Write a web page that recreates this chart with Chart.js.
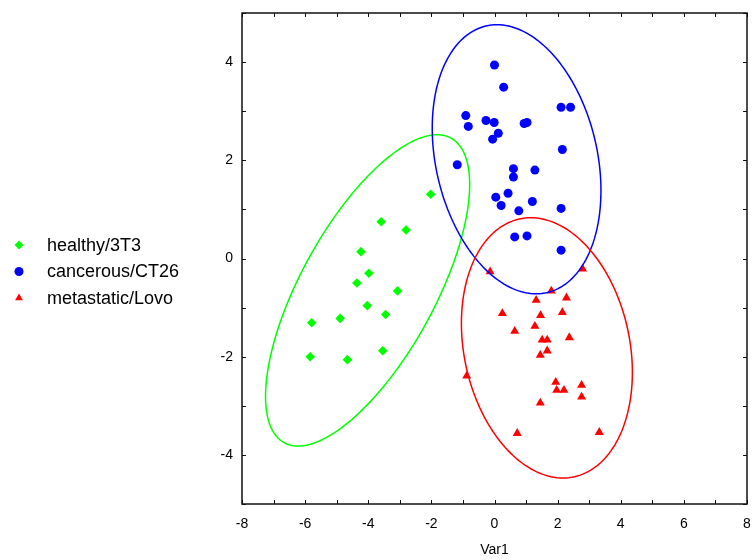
<!DOCTYPE html>
<html>
<head>
<meta charset="utf-8">
<title>Var1 scores</title>
<script src="https://cdn.jsdelivr.net/npm/chart.js@4.4.0/dist/chart.umd.min.js"></script>
<style>
  html, body { margin: 0; padding: 0; background: #fff; }
  #wrap { width: 753px; height: 560px; position: relative; }
</style>
</head>
<body>
<div id="wrap"><canvas id="scoreChart"></canvas></div>
<script>
// Scores per cell line (Var1 on x, second component on y)
const healthyX = [-2.02, -3.59, -2.80, -4.23, -3.98, -4.36, -3.07, -4.03, -3.45, -5.79, -4.89, -3.54, -5.84, -4.66];
const healthyY = [1.31, 0.75, 0.58, 0.14, -0.30, -0.50, -0.66, -0.96, -1.14, -1.31, -1.22, -1.88, -2.00, -2.06];

const cancerousX = [0.00, 0.29, 2.11, 2.41, -0.91, -0.83, -0.27, -0.01, 0.94, 1.03, 0.12, -0.06, 2.15,
                    -1.18, 0.60, 0.60, 1.28, 0.04, 0.43, 0.21, 1.20, 0.77, 2.11, 0.64, 1.03, 2.11];
const cancerousY = [3.94, 3.49, 3.08, 3.08, 2.91, 2.69, 2.81, 2.77, 2.75, 2.77, 2.55, 2.43, 2.22,
                    1.91, 1.83, 1.66, 1.80, 1.25, 1.33, 1.08, 1.16, 0.97, 1.02, 0.44, 0.46, 0.17];

const metastaticX = [-0.14, 2.79, 1.80, 2.28, 1.32, 0.25, 1.46, 2.15, 1.28, 0.64, 1.51, 1.67, 2.37, 1.67,
                     1.45, -0.88, 1.94, 1.97, 2.20, 2.76, 2.76, 1.45, 0.72, 3.32];
const metastaticY = [-0.27, -0.21, -0.66, -0.80, -0.85, -1.12, -1.16, -1.10, -1.38, -1.48, -1.66, -1.66, -1.61, -1.88,
                     -1.97, -2.39, -2.52, -2.68, -2.68, -2.58, -2.82, -2.94, -3.56, -3.54];

const groupLabels = ['healthy/3T3', 'cancerous/CT26', 'metastatic/Lovo'];

// Confidence ellipses: centre plus two conjugate half-axes, in data units
const healthyEllipse = [-4.02, -0.65, 2.20, 3.17, 2.37, 0];
const cancerousEllipse = [0.70, 2.02, -0.62, 2.74, 2.60, 0];
const metastaticEllipse = [1.66, -1.82, -0.51, 2.65, 2.66, 0];

const xTicks = [-8, -6, -4, -2, 0, 2, 4, 6, 8];
const yTicks = [-4, -2, 0, 2, 4];
const xMinor = [-8, -7, -6, -5, -4, -3, -2, -1, 0, 1, 2, 3, 4, 5, 6, 7, 8];
const yMinor = [-5, -4, -3, -2, -1, 0, 1, 2, 3, 4, 5];

const toPoints = (xs, ys) => xs.map((x, i) => ({ x: x, y: ys[i] }));

Chart.defaults.font.family = "'Liberation Sans', Arial, sans-serif";
Chart.defaults.color = '#000';

// Ellipse outlines, mapped point by point through the chart scales
const ellipsePlugin = {
    id: 'ellipses',
    afterDatasetsDraw(chart) {
        const { ctx, scales: { x, y } } = chart;
        const outlines = [
            [healthyEllipse, '#00ff00'],
            [cancerousEllipse, '#0000ff'],
            [metastaticEllipse, '#ff0000']
        ];
        ctx.save();
        ctx.beginPath();
        ctx.rect(chart.chartArea.left, chart.chartArea.top, chart.chartArea.width, chart.chartArea.height);
        ctx.clip();
        ctx.lineWidth = 1.5;
        outlines.forEach(([e, color]) => {
            const [cx, cy, px, py, qx, qy] = e;
            ctx.strokeStyle = color;
            ctx.beginPath();
            for (let k = 0; k <= 180; k++) {
                const t = k / 180 * Math.PI * 2;
                const vx = cx + px * Math.cos(t) + qx * Math.sin(t);
                const vy = cy + py * Math.cos(t) + qy * Math.sin(t);
                const X = x.getPixelForValue(vx);
                const Y = y.getPixelForValue(vy);
                if (k === 0) ctx.moveTo(X, Y); else ctx.lineTo(X, Y);
            }
            ctx.stroke();
        });
        ctx.restore();
    }
};

// Box around the plot with small inward tick marks on all four sides
const framePlugin = {
    id: 'frame',
    afterDraw(chart) {
        const { ctx, chartArea: a, scales: { x, y } } = chart;
        ctx.save();
        ctx.strokeStyle = '#111';
        ctx.lineWidth = 1.5;
        ctx.strokeRect(a.left, a.top, a.width, a.height);
        ctx.lineWidth = 1;
        ctx.beginPath();
        xMinor.forEach(v => {
            const X = Math.round(x.getPixelForValue(v)) + 0.5;
            ctx.moveTo(X, a.bottom); ctx.lineTo(X, a.bottom - 4);
            ctx.moveTo(X, a.top); ctx.lineTo(X, a.top + 4);
        });
        yMinor.forEach(v => {
            const Y = Math.round(y.getPixelForValue(v)) + 0.5;
            ctx.moveTo(a.left, Y); ctx.lineTo(a.left + 4, Y);
            ctx.moveTo(a.right, Y); ctx.lineTo(a.right - 4, Y);
        });
        ctx.stroke();
        ctx.restore();
    }
};

// Legend to the left of the y axis
const sideLegendPlugin = {
    id: 'sideLegend',
    afterDraw(chart) {
        const { ctx } = chart;
        ctx.save();
        ctx.font = "18px 'Liberation Sans', Arial, sans-serif";
        ctx.textBaseline = 'middle';
        chart.data.datasets.forEach((ds, i) => {
            const rowY = 245 + i * 26.5;
            ctx.fillStyle = ds.backgroundColor;
            Chart.helpers.drawPoint(ctx, {
                pointStyle: ds.pointStyle,
                radius: 4.5,
                rotation: 0,
                borderWidth: 0
            }, 19, rowY);
            ctx.fillStyle = '#000';
            ctx.fillText(ds.label, 47, rowY + 1);
        });
        ctx.restore();
    }
};

// Keep the plot box fixed: no extra room reserved for edge tick labels
const noEdgePadding = scale => {
    scale.paddingLeft = 0;
    scale.paddingRight = 0;
    scale.paddingTop = 0;
    scale.paddingBottom = 0;
};

new Chart(document.getElementById('scoreChart').getContext('2d'), {
    type: 'scatter',
    data: {
        datasets: [
            {
                label: groupLabels[0],
                data: toPoints(healthyX, healthyY),
                pointStyle: 'rectRot',
                backgroundColor: '#00ff00',
                borderColor: '#00ff00',
                pointRadius: 4.8,
                pointBorderWidth: 0
            },
            {
                label: groupLabels[1],
                data: toPoints(cancerousX, cancerousY),
                pointStyle: 'circle',
                backgroundColor: '#0000ff',
                borderColor: '#0000ff',
                pointRadius: 4.5,
                pointBorderWidth: 0
            },
            {
                label: groupLabels[2],
                data: toPoints(metastaticX, metastaticY),
                pointStyle: 'triangle',
                backgroundColor: '#ff0000',
                borderColor: '#ff0000',
                pointRadius: 5.2,
                pointBorderWidth: 0
            }
        ]
    },
    options: {
        responsive: true,
        maintainAspectRatio: false,
        animation: false,
        layout: {
            padding: { top: 13, right: 6, left: 0, bottom: 0 }
        },
        scales: {
            x: {
                type: 'linear',
                min: -8,
                max: 8,
                afterBuildTicks: scale => { scale.ticks = xTicks.map(v => ({ value: v })); },
                afterFit: scale => { scale.height = 56; noEdgePadding(scale); },
                grid: { display: false, drawTicks: false },
                border: { display: false },
                ticks: { font: { size: 14 }, color: '#000', padding: 12 },
                title: {
                    display: true,
                    text: 'Var1',
                    font: { size: 14 },
                    color: '#000',
                    padding: { top: 0, bottom: 1 }
                }
            },
            y: {
                type: 'linear',
                min: -5,
                max: 5,
                afterBuildTicks: scale => { scale.ticks = yTicks.map(v => ({ value: v })); },
                afterFit: scale => { scale.width = 242; noEdgePadding(scale); },
                grid: { display: false, drawTicks: false },
                border: { display: false },
                ticks: { font: { size: 14 }, color: '#000', padding: 9 }
            }
        },
        plugins: {
            legend: { display: false },
            tooltip: { enabled: false }
        }
    },
    plugins: [ellipsePlugin, framePlugin, sideLegendPlugin]
});
</script>
</body>
</html>
